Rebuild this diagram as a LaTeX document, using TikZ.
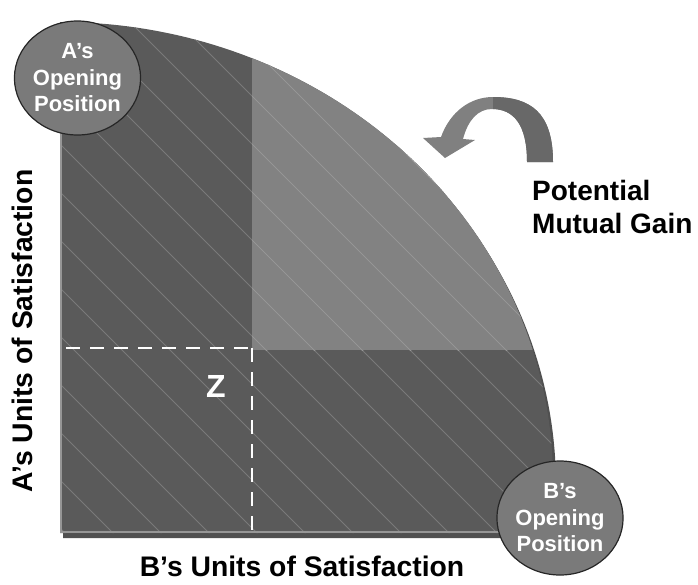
\documentclass[tikz,border=0pt]{standalone}
\usepackage{fontspec}
\setmainfont{Liberation Sans}
\usetikzlibrary{shapes.geometric}
\definecolor{regdark}{RGB}{90,90,90}
\definecolor{reglight}{RGB}{130,130,130}
\definecolor{circfill}{RGB}{122,122,122}
\definecolor{hatchdark}{RGB}{122,122,122}
\definecolor{hatchlight}{RGB}{150,150,150}
\definecolor{shadowc}{RGB}{80,80,80}
\definecolor{bevel}{RGB}{150,150,150}
\definecolor{arrowl}{RGB}{128,128,128}
\definecolor{arrowd}{RGB}{104,104,104}
\tikzset{
  opening/.style={ellipse, draw=black!85, line width=1.2pt, fill=circfill,
    minimum width=124pt, minimum height=114pt, inner sep=0pt, text=white,
    font=\fontsize{22}{26.5}\selectfont\bfseries, align=center},
  axislabel/.style={font=\fontsize{28.3}{32}\selectfont\bfseries, text=black, inner sep=0pt},
  zdash/.style={white, line width=2.6pt, dash pattern=on 14pt off 10pt},
}
\def\regionpath{(60,533) -- plot[domain=90:0, samples=80] ({60+493*cos(\x)},{480-458*sin(\x)}) -- (553,533) -- cycle}
\begin{document}
\begin{tikzpicture}[x=1pt,y=-1pt]
\useasboundingbox (0,0) rectangle (698,584);
% shadow
\begin{scope}[shift={(3,5)}]
  \fill[shadowc] \regionpath;
\end{scope}
% main region
\fill[regdark] \regionpath;
\begin{scope}
  \clip \regionpath;
  \fill[reglight] (252,0) rectangle (700,350);
  \foreach \k in {-12,...,12} {
    \draw[hatchdark, line width=0.8pt] ({60+\k*48},0) -- ({60+\k*48+620},620);
  }
  \clip (252,0) rectangle (700,350);
  \foreach \k in {-12,...,12} {
    \draw[hatchlight, line width=0.8pt] ({60+\k*48},0) -- ({60+\k*48+620},620);
  }
\end{scope}
% bevel
\draw[bevel, line width=1.6pt] (61,30) -- (61,532) -- (553,532);
% dashed lines
\coordinate (zc) at (252,348);
\coordinate (zl) at (66,348);
\coordinate (zb) at (252,532);
\draw[zdash] (zl) -- (zc);
\draw[zdash] (zc) -- (zb);
\node[font=\fontsize{32}{34}\selectfont\bfseries, text=white, inner sep=0pt] (z) at (216,386) {Z};
% curved arrow
\path[fill=arrowl] (553,162) .. controls (553,112) and (530,97) .. (493,97)
  .. controls (470,97) and (450,112) .. (441,137) -- (423,138) -- (445,158) -- (475,140) -- (463,139)
  .. controls (468,120) and (478,109) .. (492,109)
  .. controls (514,109) and (527,125) .. (527,162) -- cycle;
\begin{scope}
  \clip (493,0) rectangle (600,200);
  \path[fill=arrowd] (553,162) .. controls (553,112) and (530,97) .. (493,97)
    -- (492,109) .. controls (514,109) and (527,125) .. (527,162) -- cycle;
\end{scope}
% opening positions
\node[opening] (A) at (77.5,78) {A’s\\Opening\\Position};
\node[opening] (B) at (560,518) {B’s\\Opening\\Position};
% labels
\node[font=\fontsize{28}{33}\selectfont\bfseries, align=left, anchor=west, inner sep=0pt] (gain) at (532,207) {Potential\\Mutual Gain};
\node[axislabel, anchor=base] (xlab) at (302,576) {B’s Units of Satisfaction};
\node[axislabel, anchor=base, rotate=90] (ylab) at (32,331) {A’s Units of Satisfaction};
\end{tikzpicture}
\end{document}
